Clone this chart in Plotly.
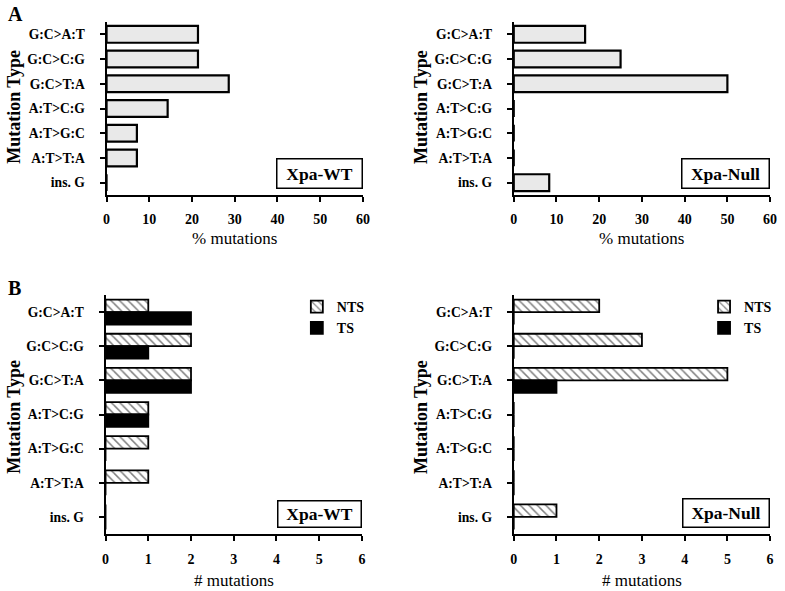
import plotly.graph_objects as go

categories = ["G:C>A:T", "G:C>C:G", "G:C>T:A", "A:T>C:G", "A:T>G:C", "A:T>T:A", "ins. G"]
wt_pct = [21.4, 21.4, 28.6, 14.3, 7.1, 7.1, 0]
null_pct = [16.7, 25.0, 50.0, 0, 0, 0, 8.3]
wt_nts = [1, 2, 2, 1, 1, 1, 0]
wt_ts = [2, 1, 2, 1, 0, 0, 0]
null_nts = [2, 3, 5, 0, 0, 0, 1]
null_ts = [0, 0, 1, 0, 0, 0, 0]
pct_ticks = [0, 10, 20, 30, 40, 50, 60]
count_ticks = [0, 1, 2, 3, 4, 5, 6]

W, H = 785, 591
FONT = "Liberation Serif"


def px(x):
    return x / W


def py(y):
    return 1 - y / H


fig = go.Figure()

gray_marker = dict(color="#e9e9e9", line=dict(color="black", width=2.2))
fig.add_trace(go.Bar(y=categories, x=wt_pct, orientation="h", width=0.68,
                     marker=gray_marker, xaxis="x", yaxis="y", showlegend=False))
fig.add_trace(go.Bar(y=categories, x=null_pct, orientation="h", width=0.68,
                     marker=gray_marker, xaxis="x2", yaxis="y2", showlegend=False))

hatch = dict(color="white", line=dict(color="black", width=1.8),
             pattern=dict(shape="\\", fgcolor="black", bgcolor="white", size=6, solidity=0.25))
solid = dict(color="black", line=dict(color="black", width=1.8))

fig.add_trace(go.Bar(y=categories, x=wt_nts, orientation="h", name="NTS", marker=hatch,
                     xaxis="x3", yaxis="y3", legend="legend"))
fig.add_trace(go.Bar(y=categories, x=wt_ts, orientation="h", name="TS", marker=solid,
                     xaxis="x3", yaxis="y3", legend="legend"))
fig.add_trace(go.Bar(y=categories, x=null_nts, orientation="h", name="NTS", marker=hatch,
                     xaxis="x4", yaxis="y4", legend="legend2"))
fig.add_trace(go.Bar(y=categories, x=null_ts, orientation="h", name="TS", marker=solid,
                     xaxis="x4", yaxis="y4", legend="legend2"))

tickfont = dict(family=FONT, size=14, color="black", weight="bold")


def xaxis(x0, x1, anchor, ticks, standoff):
    return dict(domain=[px(x0), px(x1)], anchor=anchor, range=[ticks[0], ticks[-1]],
                tickvals=ticks, ticks="outside", ticklen=5, tickwidth=1.5, tickcolor="black",
                showline=True, linecolor="black", linewidth=2, showgrid=False, zeroline=False,
                tickfont=tickfont, ticklabelstandoff=standoff, fixedrange=True)


def yaxis(y0, y1, anchor):
    return dict(domain=[py(y1), py(y0)], anchor=anchor, type="category",
                categoryorder="array", categoryarray=categories,
                range=[len(categories) - 0.5, -0.5],
                ticks="outside", ticklen=5, tickwidth=1.5, tickcolor="black",
                showline=True, linecolor="black", linewidth=2, showgrid=False, zeroline=False,
                tickfont=dict(family=FONT, size=13.6, color="black", weight="bold"),
                ticklabelstandoff=12, fixedrange=True)


legfont = dict(family=FONT, size=14, color="black", weight="bold")
fig.update_layout(
    width=W, height=H,
    margin=dict(l=0, r=0, t=0, b=0),
    paper_bgcolor="white", plot_bgcolor="white",
    barmode="group", bargap=0.27, bargroupgap=0,
    font=dict(family=FONT, color="black"),
    xaxis=xaxis(104, 364, "y", pct_ticks, 5),
    yaxis=yaxis(22, 195, "x"),
    xaxis2=xaxis(517, 777, "y2", pct_ticks, 5),
    yaxis2=yaxis(22, 195, "x2"),
    xaxis3=xaxis(103, 363, "y3", count_ticks, 6),
    yaxis3=yaxis(295, 534, "x3"),
    xaxis4=xaxis(517, 777, "y4", count_ticks, 6),
    yaxis4=yaxis(295, 534, "x4"),
    legend=dict(x=px(297), y=py(291), xanchor="left", yanchor="top", font=legfont,
                bgcolor="rgba(0,0,0,0)", itemwidth=30, tracegroupgap=0),
    legend2=dict(x=px(710), y=py(291), xanchor="left", yanchor="top", font=legfont,
                 bgcolor="rgba(0,0,0,0)", itemwidth=30, tracegroupgap=0),
)

ann = []
bold = dict(family=FONT, color="black", weight="bold")
# panel letters
ann.append(dict(text="A", x=px(2), y=py(14), xanchor="left", yanchor="middle",
                font=dict(size=20, **bold)))
ann.append(dict(text="B", x=px(2), y=py(288), xanchor="left", yanchor="middle",
                font=dict(size=20, **bold)))
# y titles
for xc, yc in [(10, 107), (423, 107), (10, 417), (423, 417)]:
    ann.append(dict(text="Mutation Type", x=px(xc), y=py(yc), textangle=-90,
                    xanchor="center", yanchor="middle", font=dict(size=18, **bold)))
# x titles
for xc, yc, t in [(234, 239, "% mutations"), (647, 239, "% mutations"),
                  (233, 580, "# mutations"), (647, 580, "# mutations")]:
    ann.append(dict(text=t, x=px(xc), y=py(yc), xanchor="center", yanchor="middle",
                    font=dict(family=FONT, size=17, color="black")))
# boxed labels
for x0, x1, y0, y1, t in [(276, 364, 157, 189, "Xpa-WT"), (687, 777, 157, 189, "Xpa-Null"),
                          (277, 363, 499, 528, "Xpa-WT"), (688, 777, 497, 528, "Xpa-Null")]:
    ann.append(dict(text=t, x=px((x0 + x1) / 2), y=py((y0 + y1) / 2), xanchor="center",
                    yanchor="middle", width=x1 - x0 - 4, height=y1 - y0 - 4, borderpad=0,
                    bordercolor="black", borderwidth=1.5, bgcolor="white",
                    font=dict(size=17.5, **bold)))
for a in ann:
    a.update(xref="paper", yref="paper", showarrow=False)
fig.update_layout(annotations=ann)

fig.write_html("out.html", config={"displayModeBar": False},
               post_script="document.body.style.margin='0';document.body.style.padding='0';")
